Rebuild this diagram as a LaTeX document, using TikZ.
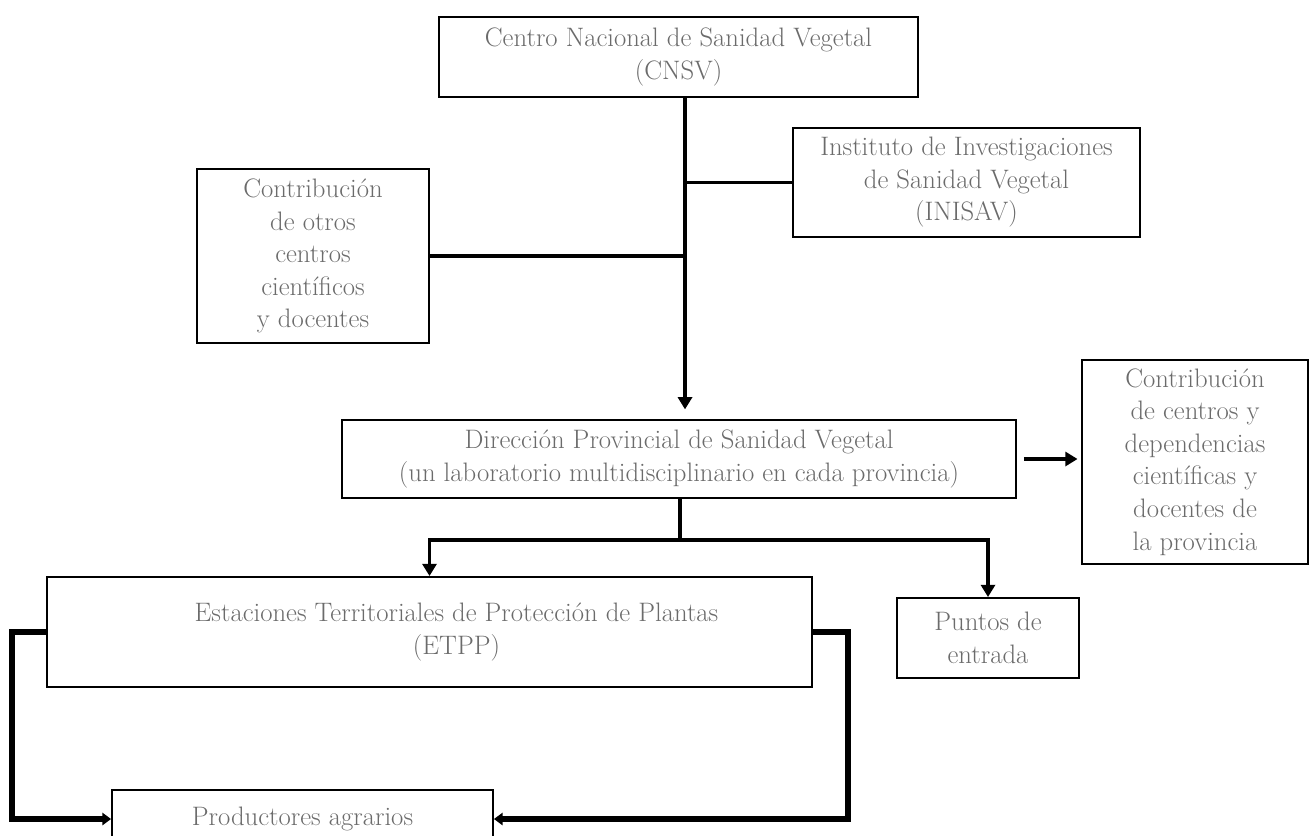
\documentclass[tikz,border=0pt]{standalone}
\usepackage{fontspec}
\usetikzlibrary{arrows.meta}

\begin{document}
\begin{tikzpicture}[x=0.02cm,y=-0.02cm,
    caja/.style={draw=black,line width=1.1pt,inner sep=0pt,align=center,
      text=black!58,font=\fontsize{15.2}{18.5}\selectfont},
    conn/.style={line width=1.8pt},
    flecha/.style={conn,-{Triangle[width=8pt,length=7pt]}},
    lazo/.style={line width=3pt,-{Triangle[width=7pt,length=5pt]}}]
      \useasboundingbox (0,0) rectangle (1310,835);

      \node[caja,minimum width=9.58cm,minimum height=1.6cm] (cnsv) at (678.5,57)
        {Centro Nacional de Sanidad Vegetal\\(CNSV)};
      \node[caja,minimum width=6.94cm,minimum height=2.18cm] (inisav) at (966.5,182.5)
        {Instituto de Investigaciones\\de Sanidad Vegetal\\(INISAV)};
      \node[caja,minimum width=4.64cm,minimum height=3.48cm] (otros) at (313,256)
        {Contribución\\de otros\\centros\\científicos\\y docentes};
      \node[caja,minimum width=13.48cm,minimum height=1.56cm] (dpsv) at (679,459)
        {Dirección Provincial de Sanidad Vegetal\\(un laboratorio multidisciplinario en cada provincia)};
      \node[caja,minimum width=4.52cm,minimum height=4.08cm] (prov) at (1195,462)
        {Contribución\\de centros y\\dependencias\\científicas y\\docentes de\\la provincia};
      \node[caja,minimum width=15.3cm,minimum height=2.2cm] (etpp) at (429.5,632)
        {\hspace*{1.08cm}Estaciones Territoriales de Protección de Plantas\\\hspace*{1.08cm}(ETPP)};
      \node[caja,minimum width=3.64cm,minimum height=1.6cm] (puntos) at (988,638)
        {Puntos de\\entrada};
      \node[caja,minimum width=7.62cm,minimum height=1.16cm] (prod) at (302.5,819)
        {Productores agrarios};

      \coordinate (j1) at (685,182.5);
      \coordinate (j2) at (685,256);
      \coordinate (j3) at (680,540);

      \draw[flecha,shorten >=5.5pt] (cnsv.south -| j1) -- (dpsv.north -| j1);
      \draw[conn] (j1) -- (inisav.west);
      \draw[conn] (j2) -- (otros.east);
      \draw[flecha,shorten <=4pt,shorten >=2pt] (dpsv.east) -- (dpsv.east -| prov.west);
      \draw[conn] (dpsv.south -| j3) -- (j3);
      \draw[flecha] (j3) -| (etpp.north);
      \draw[flecha] (j3) -| (puntos.north);
      \draw[lazo] (etpp.west) -- ++(-34,0) |- (prod.west);
      \draw[lazo] (etpp.east) -- ++(35,0) |- (prod.east);
   \end{tikzpicture}
\end{document}
